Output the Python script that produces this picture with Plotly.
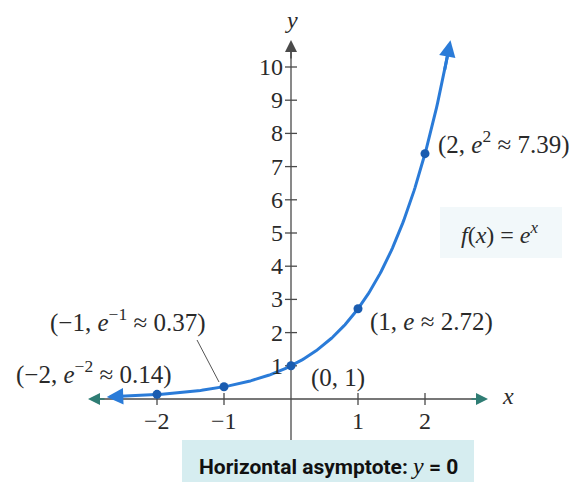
import numpy as np
import plotly.graph_objects as go

# Labelled points of f(x) = e^x
pt_x = [-2, -1, 0, 1, 2]
pt_y = [0.14, 0.37, 1, 2.72, 7.39]
pt_labels = [
    "(−2, <i>e</i><sup>−2</sup> ≈ 0.14)",
    "(−1, <i>e</i><sup>−1</sup> ≈ 0.37)",
    "(0, 1)",
    "(1, <i>e</i> ≈ 2.72)",
    "(2, <i>e</i><sup>2</sup> ≈ 7.39)",
]

x_ticks = [-2, -1, 1, 2]
y_ticks = [1, 2, 3, 4, 5, 6, 7, 8, 9, 10]

# curve domain
x_start, x_end = -2.7, 2.34

W, H = 585, 482
X0, Y0 = 291, 399          # pixel position of the origin
SX, SY = 67.0, 33.2        # pixels per unit

def dx(px):
    return (px - X0) / SX

def dy(py):
    return (Y0 - py) / SY

SERIF = "Liberation Serif"
BLUE = "#2a7bd8"
DARK_BLUE = "#1a5cb0"
AXIS = "#4a4a4a"
INK = "#2a2a2a"

fig = go.Figure()

xs = np.linspace(x_start, x_end, 300)
fig.add_trace(go.Scatter(x=xs, y=np.exp(xs), mode="lines",
                         line=dict(color=BLUE, width=3), hoverinfo="skip"))

# axes
fig.add_trace(go.Scatter(x=[dx(92), dx(482)], y=[0, 0], mode="lines",
                         line=dict(color=AXIS, width=1.3), hoverinfo="skip"))
fig.add_trace(go.Scatter(x=[0, 0], y=[dy(440), dy(48)], mode="lines",
                         line=dict(color=AXIS, width=1.3), hoverinfo="skip"))

# tick marks
tx, ty = [], []
for t in x_ticks:
    tx += [t, t, None]
    ty += [dy(Y0 - 6), dy(Y0 + 6), None]
for t in y_ticks:
    tx += [dx(X0 - 6), dx(X0 + 6), None]
    ty += [t, t, None]
fig.add_trace(go.Scatter(x=tx, y=ty, mode="lines",
                         line=dict(color=AXIS, width=1.3), hoverinfo="skip"))

# points
fig.add_trace(go.Scatter(x=pt_x, y=pt_y, mode="markers",
                         marker=dict(color=DARK_BLUE, size=9), hoverinfo="skip"))

ann = []

def text(x, y, s, size=25, xanchor="center", yanchor="middle", font=SERIF, color=INK):
    ann.append(dict(x=x, y=y, text=s, showarrow=False, xanchor=xanchor, yanchor=yanchor,
                    font=dict(family=font, size=size, color=color)))

for t in x_ticks:
    text(t, dy(421), str(t).replace("-", "−"), size=24)
for t in y_ticks:
    text(dx(285), t, str(t), xanchor="right", size=24)

text(0, dy(20), "<i>y</i>", size=24)
text(dx(500), dy(396), "<i>x</i>", size=24, xanchor="left")

# point labels (pixel anchors)
lab_pos = [(14, 372, "left"), (48, 320, "left"), (309, 378, "left"),
           (368, 322, "left"), (436, 142, "left")]
for (px, py, xa), s in zip(lab_pos, pt_labels):
    text(dx(px), dy(py), s, xanchor=xa)

text(dx(500), dy(233), "<i>f</i>(<i>x</i>) = <i>e</i><sup><i>x</i></sup>", size=24)

# leader line for (-1, e^-1)
fig.add_trace(go.Scatter(x=[dx(197), dx(219)], y=[dy(340), dy(382)], mode="lines",
                         line=dict(color="#555", width=1), hoverinfo="skip"))

# arrowheads: axes and curve ends
def arrow(x, y, ax, ay, color, width, size):
    ann.append(dict(x=x, y=y, ax=ax, ay=ay, axref="x", ayref="y", xref="x", yref="y",
                    showarrow=True, arrowhead=2, arrowsize=size, arrowwidth=width,
                    arrowcolor=color, text=""))

arrow(dx(488), 0, dx(470), 0, "#2f7d74", 1.5, 1.6)
arrow(dx(88), 0, dx(106), 0, "#2f7d74", 1.5, 1.6)
arrow(0, dy(40), 0, dy(60), AXIS, 1.5, 1.6)
xe = x_end + 0.04
arrow(xe, np.exp(xe), x_end - 0.05, np.exp(x_end - 0.05), BLUE, 3, 1.1)
arrow(x_start - 0.05, np.exp(x_start - 0.05), x_start + 0.2, np.exp(x_start + 0.2), BLUE, 3, 1.1)

# caption
ann.append(dict(xref="paper", yref="paper", x=328 / W, y=1 - 466 / H, showarrow=False,
                text=("<b>Horizontal asymptote:</b> "
                      "<span style='font-family:Liberation Serif;font-size:24px'><i>y</i></span>"
                      " <b>=</b> <b>0</b>"),
                font=dict(family="Roboto", size=21, color="#111"),
                xanchor="center", yanchor="middle"))

shapes = [
    dict(type="rect", xref="paper", yref="paper", x0=182 / W, x1=474 / W,
         y0=0, y1=1 - 440 / H, fillcolor="#d6edf0", line=dict(width=0), layer="below"),
    dict(type="rect", xref="x", yref="y", x0=dx(440), x1=dx(562), y0=dy(258), y1=dy(207),
         fillcolor="#f2f8fa", line=dict(width=0), layer="below"),
]

fig.update_layout(
    width=W, height=H, margin=dict(l=0, r=0, t=0, b=0),
    paper_bgcolor="white", plot_bgcolor="white", showlegend=False,
    xaxis=dict(range=[dx(0), dx(W)], visible=False, fixedrange=True),
    yaxis=dict(range=[dy(H), dy(0)], visible=False, fixedrange=True),
    annotations=ann, shapes=shapes,
)

fig.write_html("out.html")
